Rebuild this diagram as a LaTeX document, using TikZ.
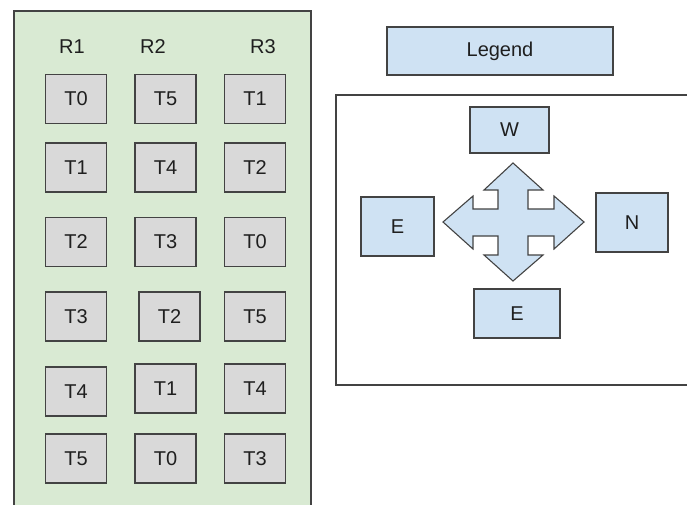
\documentclass[tikz,border=0pt]{standalone}
\usepackage{fontspec}
\setmainfont{Liberation Sans}
\definecolor{panelgreen}{HTML}{D9EAD3}
\definecolor{boxgray}{HTML}{D9D9D9}
\definecolor{boxblue}{HTML}{CFE2F3}
\definecolor{edge}{HTML}{434343}
\definecolor{ink}{HTML}{1F1F1F}
\tikzset{
  every node/.style={font=\fontsize{20}{24}\selectfont, text=ink},
  tbox/.style={draw=edge, line width=1.1pt, fill=boxgray, rectangle, minimum width=61pt, minimum height=49pt},
  bbox/.style={draw=edge, line width=1.1pt, fill=boxblue, rectangle},
  hdr/.style={inner sep=0pt},
}
\begin{document}
\begin{tikzpicture}[x=1pt,y=-1pt]
\useasboundingbox (0,0) rectangle (687,504);
\clip (0,0) rectangle (687,504);
\fill[white] (0,0) rectangle (687,504);
% green panel
\draw[edge, line width=1.1pt, fill=panelgreen] (14,11) rectangle (311,520);
% headers
\node[hdr] (r1) at (72,47) {R1};
\node[hdr] (r2) at (153,47) {R2};
\node[hdr] (r3) at (263,47) {R3};
% grid boxes
\node[tbox] (a1) at (76,99) {T0};
\node[tbox] (b1) at (165.5,99) {T5};
\node[tbox] (c1) at (255,99) {T1};
\node[tbox] (a2) at (76,167.5) {T1};
\node[tbox] (b2) at (165.5,167.5) {T4};
\node[tbox] (c2) at (255,167.5) {T2};
\node[tbox] (a3) at (76,242) {T2};
\node[tbox] (b3) at (165.5,242) {T3};
\node[tbox] (c3) at (255,242) {T0};
\node[tbox] (a4) at (76,316.5) {T3};
\node[tbox] (b4) at (169.5,316.5) {T2};
\node[tbox] (c4) at (255,316.5) {T5};
\node[tbox] (a5) at (76,391.5) {T4};
\node[tbox] (b5) at (165.5,388.5) {T1};
\node[tbox] (c5) at (255,388.5) {T4};
\node[tbox] (a6) at (76,458.5) {T5};
\node[tbox] (b6) at (165.5,458.5) {T0};
\node[tbox] (c6) at (255,458.5) {T3};
% legend title
\node[bbox, minimum width=226pt, minimum height=48pt] (legend) at (500,51) {Legend};
% legend frame
\draw[edge, line width=1.1pt, fill=white] (336,95) rectangle (700,385);
% direction boxes
\node[bbox, minimum width=79pt, minimum height=46pt] (w) at (509.5,130) {W};
\node[bbox, minimum width=73pt, minimum height=59pt] (eleft) at (397.5,226.5) {E};
\node[bbox, minimum width=72pt, minimum height=59pt] (n) at (632,222.5) {N};
\node[bbox, minimum width=86pt, minimum height=49pt] (ebottom) at (517,313.5) {E};
% four-way arrow
\draw[edge, line width=1.1pt, fill=boxblue, line join=miter]
  (513,163) -- (543,190) -- (528,190) -- (528,209) -- (554,209) -- (554,196)
  -- (584,222) -- (554,249) -- (554,236) -- (528,236) -- (528,255) -- (543,255)
  -- (513,281) -- (484,255) -- (498,255) -- (498,236) -- (473,236) -- (473,249)
  -- (443,222) -- (473,196) -- (473,209) -- (498,209) -- (498,190) -- (484,190)
  -- cycle;
\end{tikzpicture}
\end{document}
